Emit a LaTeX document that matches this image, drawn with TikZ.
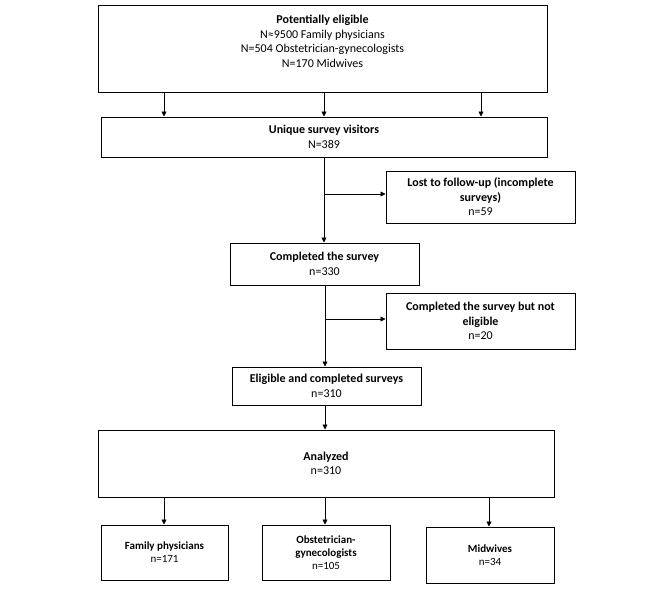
\documentclass[tikz,border=0pt]{standalone}
\usepackage{fontspec}
\setmainfont{Carlito}
\usetikzlibrary{arrows.meta}
\begin{document}
\begin{tikzpicture}[x=1pt,y=-1pt,
  box/.style={draw=black, line width=1pt, rectangle, inner sep=0pt, align=center},
  txt/.style={align=center, inner sep=0pt, font=\fontsize{12}{14.5}\selectfont},
  smalltxt/.style={align=center, inner sep=0pt, font=\fontsize{11}{13}\selectfont},
  arr/.style={draw=black, line width=0.8pt, -{Triangle[length=5pt,width=5pt]}},
  ln/.style={draw=black, line width=0.8pt}]
\useasboundingbox (0,0) rectangle (666,589);
% boxes
\node[box, minimum width=449pt, minimum height=87pt] (b1) at (322.5,48.5) {};
\node[txt, anchor=center] (t1) at (322.5,41.5) {\textbf{Potentially eligible}\\N≈9500 Family physicians\\N=504 Obstetrician-gynecologists\\N=170 Midwives};
\node[box, txt, minimum width=446pt, minimum height=40pt] (b2) at (324,137) {\textbf{Unique survey visitors}\\N=389};
\node[box, txt, minimum width=189pt, minimum height=52pt] (lost) at (480.5,197) {\textbf{Lost to follow-up (incomplete}\\\textbf{surveys)}\\n=59};
\node[box, txt, minimum width=189pt, minimum height=42pt] (b3) at (324.5,264) {\textbf{Completed the survey}\\n=330};
\node[box, txt, minimum width=189pt, minimum height=56pt] (ne) at (480.5,321) {\textbf{Completed the survey but not}\\\textbf{eligible}\\n=20};
\node[box, txt, minimum width=189pt, minimum height=38pt] (el) at (326.5,386) {\textbf{Eligible and completed surveys}\\n=310};
\node[box, txt, minimum width=456pt, minimum height=67pt] (an) at (326,463.5) {\textbf{Analyzed}\\n=310};
\node[box, smalltxt, minimum width=127pt, minimum height=55pt] (fp) at (164.5,552.5) {\textbf{Family physicians}\\n=171};
\node[box, smalltxt, minimum width=128pt, minimum height=55pt] (ob) at (326,552.5) {\textbf{Obstetrician-}\\\textbf{gynecologists}\\n=105};
\node[box, smalltxt, minimum width=128pt, minimum height=56pt] (mw) at (490,555) {\textbf{Midwives}\\n=34};
% arrows b1 -> b2
\draw[arr] (b1.south -| 164,0) -- (b2.north -| 164,0);
\draw[arr] (b1.south -| 324,0) -- (b2.north -| 324,0);
\draw[arr] (b1.south -| 481,0) -- (b2.north -| 481,0);
% b2 -> b3 with branch
\draw[arr] (b2.south -| 324,0) -- (b3.north -| 324,0);
\coordinate (j1) at (324,194);
\draw[arr] (j1) -- (lost.west |- j1);
% b3 -> el with branch
\draw[arr] (b3.south -| 325,0) -- (el.north -| 325,0);
\coordinate (j2) at (325,319);
\draw[arr] (j2) -- (ne.west |- j2);
% el -> an
\draw[arr] (el.south -| 325,0) -- (an.north -| 325,0);
% an -> bottom
\draw[arr] (an.south -| 164,0) -- (fp.north -| 164,0);
\draw[arr] (an.south -| 325,0) -- (ob.north -| 325,0);
\draw[arr] (an.south -| 489,0) -- (mw.north -| 489,0);
\end{tikzpicture}
\end{document}
